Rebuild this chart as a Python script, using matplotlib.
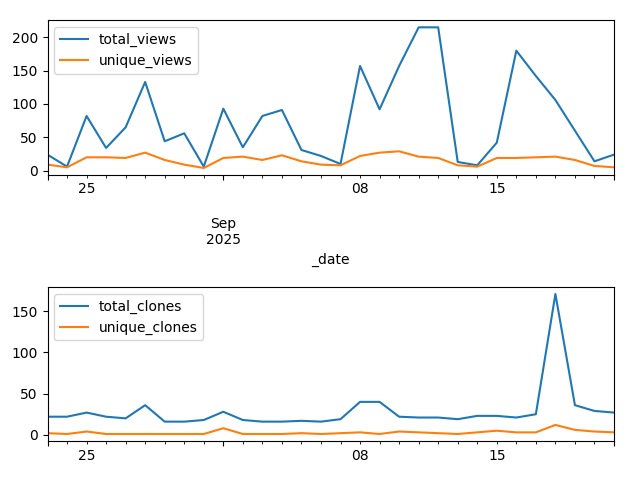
import matplotlib
matplotlib.use("Agg")
import matplotlib.pyplot as plt
import pandas as pd

dates = pd.date_range("2025-08-23", "2025-09-21", freq="D", name="_date")

total_views = [24, 6, 82, 34, 65, 133, 44, 56, 6, 93, 35, 82, 91, 31, 22, 10,
               157, 92, 157, 215, 215, 13, 8, 42, 180, 142, 106, 60, 14, 24]
unique_views = [9, 5, 20, 20, 19, 27, 16, 9, 4, 19, 21, 16, 23, 14, 9, 8,
                22, 27, 29, 21, 19, 8, 6, 19, 19, 20, 21, 16, 7, 5]

total_clones = [22, 22, 27, 22, 20, 36, 16, 16, 18, 28, 18, 16, 16, 17, 16, 19,
                40, 40, 22, 21, 21, 19, 23, 23, 21, 25, 171, 36, 29, 27]
unique_clones = [2, 1, 4, 1, 1, 1, 1, 1, 1, 8, 1, 1, 1, 2, 1, 2,
                 3, 1, 4, 3, 2, 1, 3, 5, 3, 3, 12, 6, 4, 3]

views = pd.DataFrame({"total_views": total_views, "unique_views": unique_views}, index=dates)
clones = pd.DataFrame({"total_clones": total_clones, "unique_clones": unique_clones}, index=dates)

fig = plt.figure(figsize=(6.4, 4.8), dpi=100)
ax1 = fig.add_axes([47.5/640, 1-175/480, 566.5/640, 154.7/480])
ax2 = fig.add_axes([47.5/640, 1-441/480, 566.5/640, 154/480])

views.plot(ax=ax1)
clones.plot(ax=ax2)

# In the reference the lower panel's month label and axis label fall outside the figure
ax2.set_xlabel("")
ax2.tick_params(axis="x", which="major", labelbottom=False)

fig.savefig("out.png", dpi=100)
